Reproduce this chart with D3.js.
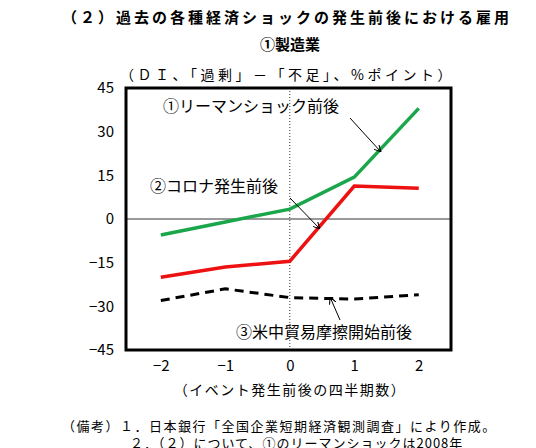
<!DOCTYPE html>
<html><head><meta charset="utf-8">
<script src="https://cdn.jsdelivr.net/npm/d3@7"></script>
<style>body{margin:0;background:#fff}text{font-family:"Noto Sans CJK JP",sans-serif}</style>
</head><body><svg id="c" width="536" height="448"></svg>
<script>
const quarters = [-2, -1, 0, 1, 2];
const lehman = [-5.5, -1, 3.4, 14.4, 38];
const corona = [-20, -16.5, -14.5, 11.3, 10.6];
const tradeWar = [-28, -24, -27, -27.5, -26];
const yTicks = [45, 30, 15, 0, -15, -30, -45];

const svg = d3.select('#c');
const x = d3.scaleLinear().domain([-2.54, 2.5]).range([126, 451]);
const y = d3.scaleLinear().domain([-45, 45]).range([350, 88]);

svg.append('text').attr('x', 62).attr('y', 23).attr('font-size', 15).attr('font-weight', 'bold')
  .attr('letter-spacing', 3).text('（２）過去の各種経済ショックの発生前後における雇用');
svg.append('text').attr('x', 290).attr('y', 50).attr('font-size', 15).attr('font-weight', 'bold')
  .attr('text-anchor', 'middle').text('①製造業');
svg.append('text').attr('x', 120).attr('y', 80).attr('font-size', 14)
  .attr('letter-spacing', 3.5).text('（ＤＩ、「過剰」－「不足」、%ポイント）');

svg.append('line').attr('x1', x.range()[0]).attr('x2', x.range()[1])
  .attr('y1', y(0)).attr('y2', y(0)).attr('stroke', '#000').attr('stroke-width', 0.8);
svg.append('line').attr('x1', x(0)).attr('x2', x(0)).attr('y1', y(45)).attr('y2', y(-45))
  .attr('stroke', '#000').attr('stroke-width', 0.8).attr('stroke-dasharray', '1,2');

const line = d3.line().x((d, i) => x(quarters[i])).y(d => y(d));
svg.append('path').datum(lehman).attr('d', line).attr('fill', 'none').attr('stroke', '#1aa64a').attr('stroke-width', 3.5);
svg.append('path').datum(corona).attr('d', line).attr('fill', 'none').attr('stroke', '#ee1111').attr('stroke-width', 3.5);
svg.append('path').datum(tradeWar).attr('d', line).attr('fill', 'none').attr('stroke', '#000')
  .attr('stroke-width', 3).attr('stroke-dasharray', '9,6');

svg.append('rect').attr('x', 126).attr('y', 88).attr('width', 325).attr('height', 262)
  .attr('fill', 'none').attr('stroke', '#000').attr('stroke-width', 3);

const ya = svg.append('g').attr('transform', 'translate(126,0)')
  .call(d3.axisLeft(y).tickValues(yTicks).tickSize(0).tickPadding(12).tickFormat(d => d < 0 ? '−' + (-d) : d));
ya.select('.domain').remove();
ya.selectAll('text').attr('font-size', 15).attr('font-family', 'Liberation Serif, serif');
const xa = svg.append('g').attr('transform', 'translate(0,350)')
  .call(d3.axisBottom(x).tickValues(quarters).tickSize(0).tickPadding(10).tickFormat(d => d < 0 ? '−' + (-d) : d));
xa.select('.domain').remove();
xa.selectAll('text').attr('font-size', 15).attr('font-family', 'Liberation Serif, serif');

svg.append('text').attr('x', 290).attr('y', 395).attr('font-size', 14).attr('text-anchor', 'middle')
  .attr('letter-spacing', 1.5).text('（イベント発生前後の四半期数）');

svg.append('defs').append('marker').attr('id', 'ah').attr('viewBox', '0 0 10 10').attr('refX', 10).attr('refY', 5)
  .attr('markerWidth', 7).attr('markerHeight', 7).attr('orient', 'auto')
  .append('path').attr('d', 'M0,0L10,5L0,10').attr('fill', 'none').attr('stroke', '#000').attr('stroke-width', 1.5);
const notes = [
  {t: '①リーマンショック前後', tx: 163, ty: 112, x1: 350, y1: 118, x2: 381, y2: 152},
  {t: '②コロナ発生前後', tx: 150, ty: 192, x1: 290, y1: 198, x2: 320, y2: 229},
  {t: '③米中貿易摩擦開始前後', tx: 236, ty: 338, x1: 340, y1: 320, x2: 330, y2: 297}
];
notes.forEach(n => {
  svg.append('line').attr('x1', n.x1).attr('y1', n.y1).attr('x2', n.x2).attr('y2', n.y2)
    .attr('stroke', '#000').attr('stroke-width', 1).attr('marker-end', 'url(#ah)');
  svg.append('text').attr('x', n.tx).attr('y', n.ty).attr('font-size', 16).text(n.t);
});

svg.append('text').attr('x', 62).attr('y', 431).attr('font-size', 13).attr('letter-spacing', 1.5)
  .text('（備考）１．日本銀行「全国企業短期経済観測調査」により作成。');
svg.append('text').attr('x', 130).attr('y', 448).attr('font-size', 13).attr('letter-spacing', 1)
  .text('２．（２）について、①のリーマンショックは2008年');
</script></body></html>
